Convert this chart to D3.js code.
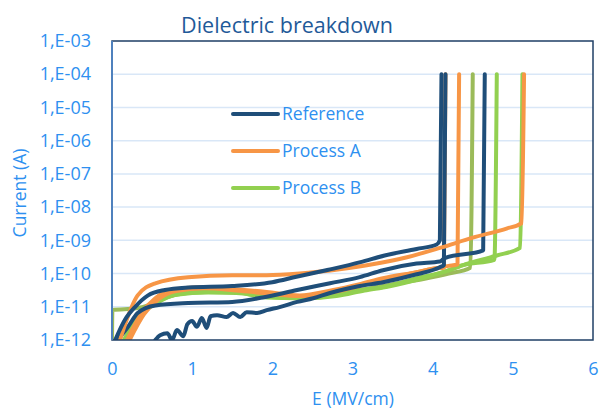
<!DOCTYPE html>
<html>
<head>
<meta charset="utf-8">
<script src="https://cdn.jsdelivr.net/npm/d3@7"></script>
<style>
  body { margin: 0; background: #fff; }
  text { font-family: "Open Sans", sans-serif; }
</style>
</head>
<body>
<div id="viz"></div>
<script>
"use strict";

const w = 608;
const h = 413;

// x ticks (MV/cm) and y ticks (A)
const xTicks = [0, 1, 2, 3, 4, 5, 6];
const yTicks = [1e-12, 1e-11, 1e-10, 1e-9, 1e-8, 1e-7, 1e-6, 1e-5, 1e-4, 1e-3];
const seriesNames = ["Reference", "Process A", "Process B"];

// Reference samples: [E, I]
const ref1 = [[0.04, 1e-12], [0.16, 4e-12], [0.29, 1e-11], [0.45, 2.2e-11], [0.66, 3.2e-11], [0.95, 3.8e-11],
  [1.5, 4.2e-11], [2.0, 5.5e-11], [2.3, 8e-11], [2.7, 1.3e-10], [3.1, 2.2e-10], [3.4, 3.5e-10],
  [3.8, 5.5e-10], [4.05, 7.5e-10], [4.09, 1e-9], [4.11, 1e-4]];
const ref2 = [[0.07, 1e-12], [0.2, 2.5e-12], [0.32, 6.5e-12], [0.54, 1.1e-11], [0.95, 1.3e-11], [1.5, 1.4e-11],
  [1.88, 1.9e-11], [2.31, 3.2e-11], [2.72, 5.1e-11], [3.09, 7.8e-11], [3.38, 1.26e-10], [3.8, 2.0e-10],
  [4.09, 2.3e-10], [4.15, 2.9e-10], [4.63, 5e-10], [4.65, 1e-4]];
const ref3 = [[0.54, 1e-12], [0.6, 1.4e-12], [0.69, 1.6e-12], [0.75, 1e-12], [0.81, 2e-12], [0.89, 1.3e-12],
  [0.94, 3e-12], [1.0, 3.7e-12], [1.06, 2.5e-12], [1.12, 4.6e-12], [1.18, 2.3e-12], [1.23, 5.2e-12],
  [1.31, 5.6e-12], [1.43, 4.9e-12], [1.51, 6.5e-12], [1.6, 4.9e-12], [1.68, 6.9e-12], [1.81, 6.5e-12],
  [1.93, 7.9e-12], [2.09, 9.8e-12], [2.31, 1.4e-11], [2.51, 1.8e-11], [2.72, 2.6e-11], [3.09, 4.2e-11],
  [3.38, 5.5e-11], [3.8, 9.5e-11], [4.09, 1.55e-10], [4.14, 1.8e-10], [4.16, 1e-4]];

// Process A samples
const procA1 = [[0.1, 1e-12], [0.16, 2.8e-12], [0.32, 2.2e-11], [0.54, 5.1e-11], [0.95, 7.8e-11], [1.5, 8.9e-11],
  [1.93, 8.9e-11], [2.34, 1.0e-10], [2.84, 1.35e-10], [3.25, 1.9e-10], [3.68, 3.1e-10], [4.09, 5.9e-10],
  [4.5, 1.2e-9], [4.93, 2.3e-9], [5.11, 3.3e-9], [5.14, 1e-4]];
const procA2 = [[0.19, 1e-12], [0.37, 6.5e-12], [0.54, 1.8e-11], [0.75, 3.2e-11], [1.1, 3.9e-11], [1.51, 3.4e-11],
  [1.93, 2.8e-11], [2.34, 2.2e-11], [2.76, 3.2e-11], [3.09, 4.8e-11], [3.38, 7.2e-11], [3.8, 1.1e-10],
  [4.05, 1.45e-10], [4.14, 1.5e-10], [4.16, 1e-4]];
const procA3 = [[0.22, 1e-12], [0.4, 6e-12], [0.58, 1.7e-11], [0.8, 3e-11], [1.15, 3.6e-11], [1.55, 3.1e-11],
  [1.95, 2.5e-11], [2.35, 2.1e-11], [2.8, 2.9e-11], [3.15, 4.6e-11], [3.5, 7.5e-11], [3.9, 1.25e-10],
  [4.2, 1.7e-10], [4.31, 1.9e-10], [4.33, 1e-4]];

// Process B samples
const procB1 = [[0, 1e-12], [0.005, 8e-12], [0.3, 9e-12], [0.5, 1.2e-11], [0.7, 2e-11], [1.0, 3e-11], [1.3, 3.3e-11],
  [1.7, 2.8e-11], [2.0, 2.3e-11], [2.4, 2.0e-11], [2.8, 2.4e-11], [3.1, 3.2e-11], [3.5, 4.8e-11],
  [3.9, 7e-11], [4.2, 1e-10], [4.47, 1.5e-10], [4.5, 1e-4]];
const procB2 = [[0.15, 1e-12], [0.32, 5e-12], [0.54, 1.4e-11], [0.75, 2.2e-11], [1.16, 2.8e-11], [1.51, 2.8e-11],
  [1.93, 1.9e-11], [2.34, 1.8e-11], [2.76, 2.2e-11], [3.09, 3.2e-11], [3.38, 3.9e-11], [3.8, 7.2e-11],
  [4.13, 1.1e-10], [4.38, 1.8e-10], [4.77, 2.6e-10], [4.8, 1e-4]];
const procB3 = [[0.17, 1e-12], [0.34, 5e-12], [0.56, 1.3e-11], [0.8, 2.3e-11], [1.2, 2.7e-11], [1.55, 2.6e-11],
  [1.95, 2.0e-11], [2.4, 1.8e-11], [2.8, 2.1e-11], [3.15, 3.1e-11], [3.45, 4.1e-11], [3.85, 7e-11],
  [4.13, 1.1e-10], [4.38, 1.8e-10], [4.8, 3.5e-10], [5.09, 5.9e-10], [5.12, 1e-4]];

const curves = [
  { data: procB1, color: "#9bbb59" },
  { data: procB2, color: "#92d050" },
  { data: procB3, color: "#92d050" },
  { data: procA3, color: "#f79646" },
  { data: procA2, color: "#f79646" },
  { data: ref3, color: "#1f4e79" },
  { data: ref2, color: "#1f4e79" },
  { data: procA1, color: "#f79646" },
  { data: ref1, color: "#1f4e79" }
];
const legendColors = ["#1f4e79", "#f79646", "#92d050"];

const margin = { left: 112, right: 15, top: 41, bottom: 73 };

const svg = d3.select("#viz")
  .append("svg")
  .attr("width", w)
  .attr("height", h);

const x = d3.scaleLinear()
  .domain([0, 6])
  .range([margin.left, w - margin.right]);

const y = d3.scaleLog()
  .domain([1e-12, 1e-3])
  .range([h - margin.bottom, margin.top]);

// title
svg.append("text")
  .attr("x", 287)
  .attr("y", 33)
  .attr("text-anchor", "middle")
  .attr("fill", "#1f5a99")
  .style("font-size", "21.5px")
  .text("Dielectric breakdown");

// gridlines
svg.append("g")
  .selectAll("line")
  .data(yTicks.slice(1, -1))
  .join("line")
  .attr("x1", x(0))
  .attr("x2", x(6))
  .attr("y1", d => y(d))
  .attr("y2", d => y(d))
  .attr("stroke", "#d9e7f7")
  .attr("stroke-width", 1.5);

// axes
const fmt = d => "1,E-" + String(-Math.round(Math.log10(d))).padStart(2, "0");

const yAxis = svg.append("g")
  .attr("transform", `translate(${margin.left},0)`)
  .call(d3.axisLeft(y).tickValues(yTicks).tickFormat(fmt).tickSize(0).tickPadding(21));

const xAxis = svg.append("g")
  .attr("transform", `translate(0,${h - margin.bottom})`)
  .call(d3.axisBottom(x).tickValues(xTicks).tickFormat(d3.format("d")).tickSize(0).tickPadding(22));

[yAxis, xAxis].forEach(g => {
  g.select(".domain").remove();
  g.selectAll("text")
    .attr("fill", "#2e90f0")
    .style("font-size", "18px")
    .style("font-family", "'Open Sans', sans-serif");
});

// data lines, clipped to plot area
svg.append("clipPath")
  .attr("id", "clip")
  .append("rect")
  .attr("x", x(0))
  .attr("y", y(1e-3))
  .attr("width", x(6) - x(0))
  .attr("height", y(1e-12) - y(1e-3));

const line = d3.line()
  .curve(d3.curveMonotoneX)
  .x(d => x(d[0]))
  .y(d => y(d[1]));

svg.append("g")
  .attr("clip-path", "url(#clip)")
  .selectAll("path")
  .data(curves)
  .join("path")
  .attr("d", d => line(d.data))
  .attr("fill", "none")
  .attr("stroke", d => d.color)
  .attr("stroke-width", 4)
  .attr("stroke-linejoin", "round")
  .attr("stroke-linecap", "round");

// frame
svg.append("rect")
  .attr("x", x(0))
  .attr("y", y(1e-3))
  .attr("width", x(6) - x(0))
  .attr("height", y(1e-12) - y(1e-3))
  .attr("fill", "none")
  .attr("stroke", "#1f3f66")
  .attr("stroke-width", 1.5);

svg.append("line")
  .attr("x1", x(0))
  .attr("x2", x(0))
  .attr("y1", y(1e-3))
  .attr("y2", y(1e-12))
  .attr("stroke", "#4f81bd")
  .attr("stroke-width", 2);

// axis titles
svg.append("text")
  .attr("transform", "translate(26,193) rotate(-90)")
  .attr("text-anchor", "middle")
  .attr("fill", "#2e90f0")
  .style("font-size", "17.5px")
  .text("Current (A)");

svg.append("text")
  .attr("x", 353)
  .attr("y", 405)
  .attr("text-anchor", "middle")
  .attr("fill", "#2e90f0")
  .style("font-size", "17.5px")
  .text("E (MV/cm)");

// legend
const legend = svg.append("g")
  .selectAll("g")
  .data(seriesNames)
  .join("g")
  .attr("transform", (d, i) => `translate(233,${114 + i * 37})`);

legend.append("line")
  .attr("x1", 0)
  .attr("x2", 45)
  .attr("stroke", (d, i) => legendColors[i])
  .attr("stroke-width", 4)
  .attr("stroke-linecap", "round");

legend.append("text")
  .attr("x", 49)
  .attr("dy", "0.35em")
  .attr("fill", "#2e90f0")
  .style("font-size", "17.5px")
  .text(d => d);
</script>
</body>
</html>
